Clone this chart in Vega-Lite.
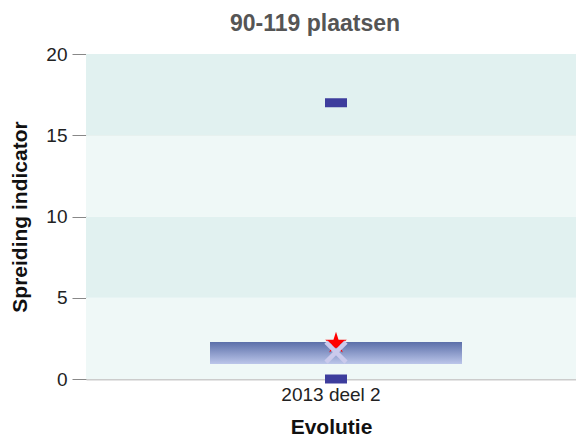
{
  "$schema": "https://vega.github.io/schema/vega-lite/v6.json",
  "width": 490,
  "height": 325,
  "autosize": "none",
  "padding": {"left": 86, "top": 54, "right": 0, "bottom": 57},
  "background": "white",
  "title": {"text": "90-119 plaatsen", "fontSize": 23, "font": "Liberation Sans", "fontWeight": "bold", "color": "#555555", "offset": 9, "dx": -16},
  "config": {
    "view": {"stroke": null},
    "axis": {"labelFont": "Liberation Sans", "titleFont": "Liberation Sans"}
  },
  "datasets": {
    "bands": [
      {"lo": 0, "hi": 5, "shade": "light"},
      {"lo": 5, "hi": 10, "shade": "dark"},
      {"lo": 10, "hi": 15, "shade": "light"},
      {"lo": 15, "hi": 20, "shade": "dark"}
    ],
    "stats": [
      {"period": "2013 deel 2", "min": 0, "max": 17, "q1": 0.92, "q3": 2.28, "mean": 1.65, "current": 2.2}
    ]
  },
  "layer": [
    {
      "data": {"name": "bands"},
      "mark": {"type": "rect"},
      "encoding": {
        "y": {"field": "lo", "type": "quantitative", "scale": {"domain": [0, 20], "nice": false},
          "axis": {"title": "Spreiding indicator", "values": [0, 5, 10, 15, 20], "labelFontSize": 19, "labelColor": "#222222", "titleFontSize": 21, "titleFontWeight": "bold", "titleColor": "#111111", "titlePadding": 15, "tickSize": 14, "tickColor": "#888888", "domainColor": "#bbbbbb", "gridColor": "#d4d8d8", "grid": true, "labelPadding": 5}},
        "y2": {"field": "hi"},
        "color": {"field": "shade", "type": "nominal", "scale": {"domain": ["light", "dark"], "range": ["#eff8f7", "#e1f1f0"]}, "legend": null}
      }
    },
    {
      "data": {"name": "stats"},
      "layer": [
        {
          "mark": {"type": "bar", "width": 252, "xOffset": 5, "color": {"gradient": "linear", "x1": 0, "y1": 0, "x2": 0, "y2": 1, "stops": [{"offset": 0, "color": "#5b6fa9"}, {"offset": 1, "color": "#bcc6ea"}]}},
          "encoding": {
            "x": {"field": "period", "type": "nominal", "axis": {"title": "Evolutie", "labelAngle": 0, "labelFontSize": 19, "labelColor": "#222222", "titleFontSize": 21, "titleFontWeight": "bold", "titleColor": "#111111", "ticks": false, "domainColor": "#cccccc", "domainWidth": 2, "labelPadding": 6, "titlePadding": 12}},
            "y": {"field": "q1", "type": "quantitative"},
            "y2": {"field": "q3"}
          }
        },
        {
          "mark": {"type": "tick", "orient": "horizontal", "size": 22, "thickness": 9, "xOffset": 5, "color": "#3d3d9d", "opacity": 1},
          "encoding": {
            "x": {"field": "period", "type": "nominal"},
            "y": {"field": "max", "type": "quantitative"}
          }
        },
        {
          "mark": {"type": "tick", "orient": "horizontal", "size": 22, "thickness": 9, "xOffset": 5, "color": "#3d3d9d", "opacity": 1},
          "encoding": {
            "x": {"field": "period", "type": "nominal"},
            "y": {"field": "min", "type": "quantitative"}
          }
        },
        {
          "mark": {"type": "point", "shape": "M0,-1L0.2245,-0.309L0.951,-0.309L0.363,0.118L0.588,0.809L0,0.382L-0.588,0.809L-0.363,0.118L-0.951,-0.309L-0.2245,-0.309Z", "filled": true, "color": "#ff0000", "size": 520, "xOffset": 5, "opacity": 1},
          "encoding": {
            "x": {"field": "period", "type": "nominal"},
            "y": {"field": "current", "type": "quantitative"}
          }
        },
        {
          "mark": {"type": "point", "shape": "M-1,-1L1,1M1,-1L-1,1", "filled": false, "stroke": "#cacaec", "strokeWidth": 4.5, "size": 400, "xOffset": 5, "opacity": 1},
          "encoding": {
            "x": {"field": "period", "type": "nominal"},
            "y": {"field": "mean", "type": "quantitative"}
          }
        }
      ]
    }
  ]
}
